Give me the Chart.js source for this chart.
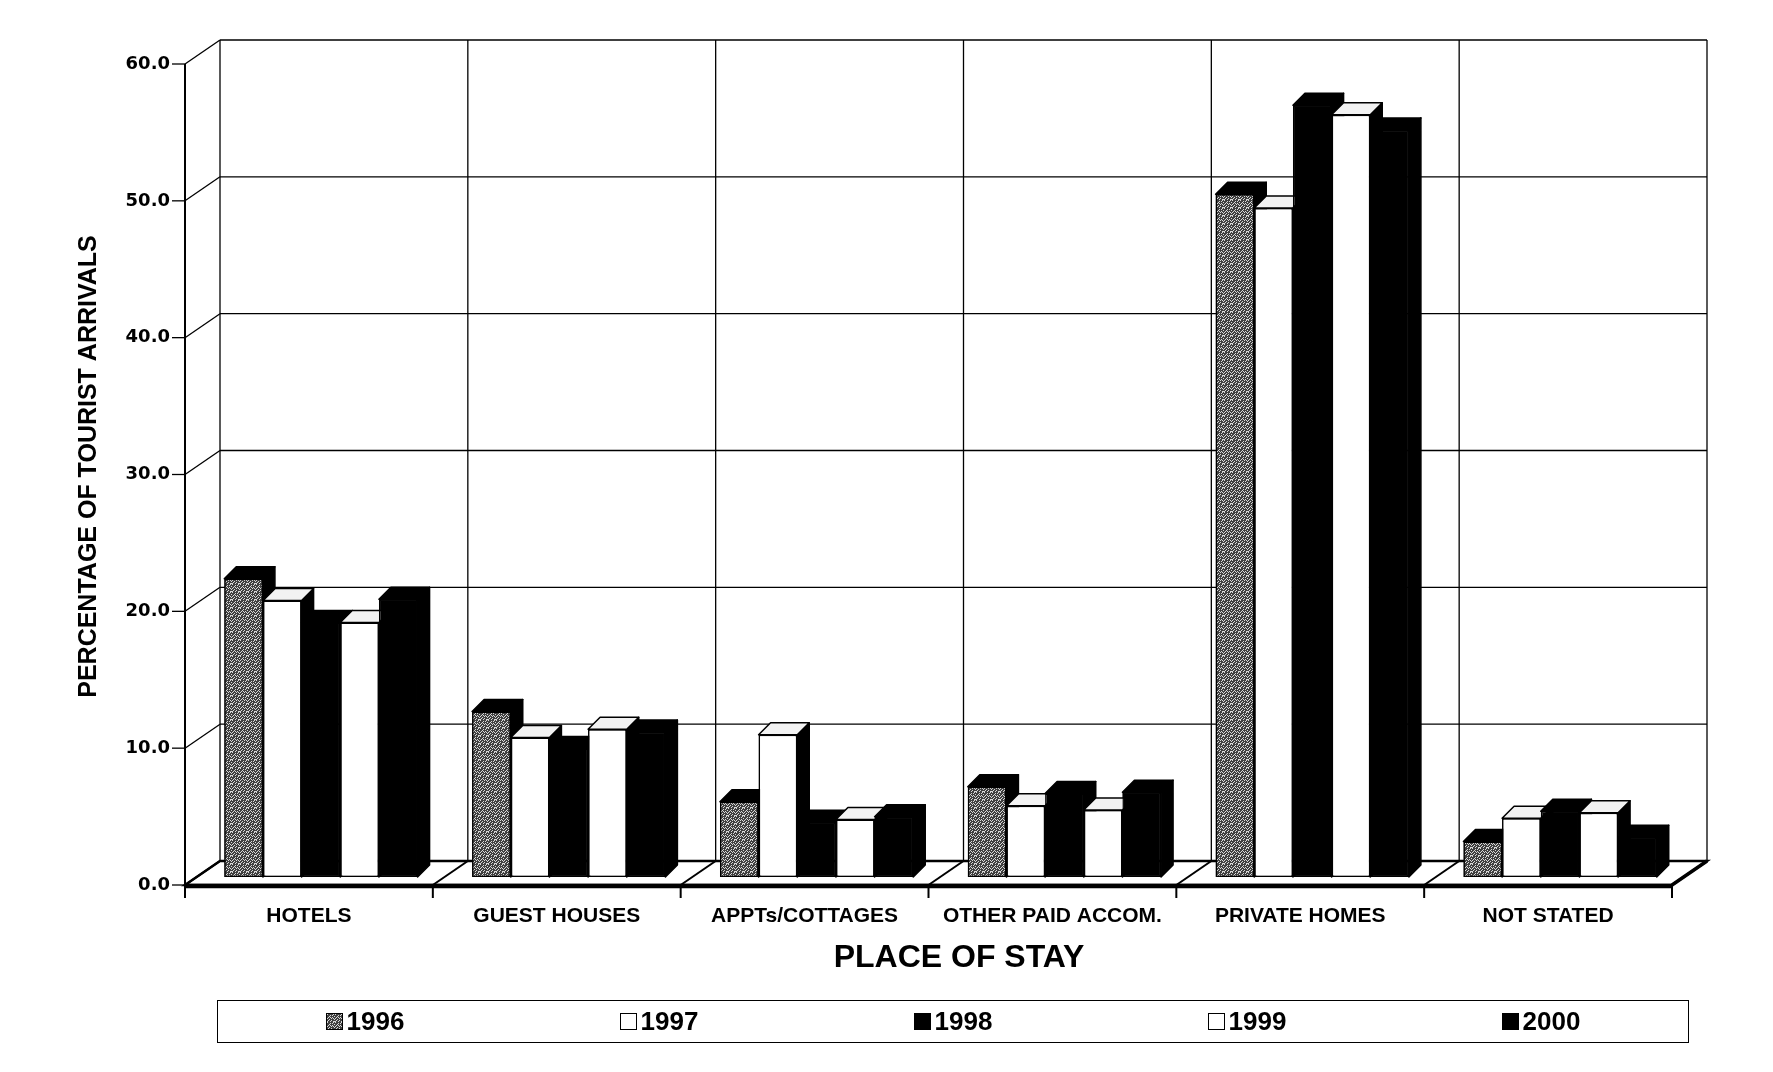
<!DOCTYPE html>
<html>
<head>
<meta charset="utf-8">
<script src="https://cdn.jsdelivr.net/npm/chart.js@4.4.1/dist/chart.umd.min.js"></script>
<style>
  body{margin:0;background:#fff;}
  #wrap{position:relative;width:1773px;height:1072px;overflow:hidden;}
  #xtitle{position:absolute;left:0;width:1918px;top:938px;line-height:40px;text-align:center;
    font:bold 32px "Liberation Sans",Arial,sans-serif;color:#000;}
  #legend{position:absolute;left:217px;top:1000px;width:1470px;height:41px;border:1.5px solid #000;
    display:flex;align-items:center;font:bold 26px "Liberation Sans",Arial,sans-serif;color:#000;}
  #legend .item{flex:1;display:flex;justify-content:center;align-items:center;}
  #legend .sw{width:17px;height:17px;border:1.5px solid #000;margin-right:4px;box-sizing:border-box;}
</style>
</head>
<body>
<div id="wrap">
  <canvas id="chart" width="1773" height="1072"></canvas>
  <div id="xtitle">PLACE OF STAY</div>
  <div id="legend"></div>
</div>
<script>
// categories and series (percent of arrivals)
const CATEGORIES = ['HOTELS','GUEST HOUSES','APPTs/COTTAGES','OTHER PAID ACCOM.','PRIVATE HOMES','NOT STATED'];
const YEARS = ['1996','1997','1998','1999','2000'];
const V1996 = [21.8, 12.1, 5.5, 6.6, 49.9, 2.6];
const V1997 = [20.2, 10.2, 10.4, 5.2, 48.9, 4.3];
const V1998 = [18.6, 9.4, 4.0, 6.1, 56.4, 4.8];
const V1999 = [18.6, 10.8, 4.2, 4.9, 55.7, 4.7];
const V2000 = [20.3, 10.6, 4.4, 6.2, 54.6, 2.9];
const Y_TICKS = [0, 10, 20, 30, 40, 50, 60];

// fake 3d: front axis plane and back wall relative to the bar plane
const FRONT = {dx: -12, dy: 8};
const BACK = {dx: 23, dy: -16};
const BAR_DEPTH = {dx: 12, dy: -12};

// grey speckle fill for 1996
function speckle(){
  const c = document.createElement('canvas');
  c.width = c.height = 8;
  const g = c.getContext('2d');
  g.fillStyle = '#404040';
  g.fillRect(0,0,8,8);
  g.fillStyle = '#d8d8d8';
  [[0,0],[3,1],[6,0],[1,3],[5,3],[2,5],[7,5],[4,6],[0,7],[6,7],[3,3],[7,2],[1,6],[5,1],[4,4],[2,2],
   [6,4],[0,4],[3,7],[7,7]]
    .forEach(([x,y]) => g.fillRect(x,y,1,1));
  return c;
}
const tile = speckle();
const greyFill = document.getElementById('chart').getContext('2d').createPattern(tile, 'repeat');

const FILLS = [greyFill, '#ffffff', '#000000', '#ffffff', '#000000'];
const TOP_FILLS = ['#000000', '#f2f2f2', '#000000', '#f2f2f2', '#000000'];
const SERIES = [V1996, V1997, V1998, V1999, V2000];

function line(ctx, x1, y1, x2, y2){
  ctx.beginPath(); ctx.moveTo(x1,y1); ctx.lineTo(x2,y2); ctx.stroke();
}
function poly(ctx, pts, fill){
  ctx.beginPath();
  pts.forEach((p,i) => i ? ctx.lineTo(p[0],p[1]) : ctx.moveTo(p[0],p[1]));
  ctx.closePath();
  ctx.fillStyle = fill; ctx.fill(); ctx.stroke();
}

const depth3d = {
  id: 'depth3d',
  beforeDatasetsDraw(chart){
    const {ctx, chartArea: a, scales: {x, y}} = chart;
    const n = chart.data.labels.length;
    const yv = v => y.getPixelForValue(v);
    const bx = k => x.getPixelForValue(k - 0.5);
    const top = Y_TICKS[Y_TICKS.length-1];
    ctx.save();
    ctx.strokeStyle = '#000';
    ctx.lineWidth = 1.3;
    // back wall grid
    Y_TICKS.forEach(v => line(ctx, a.left+BACK.dx, yv(v)+BACK.dy, a.right+BACK.dx, yv(v)+BACK.dy));
    for(let k=0;k<=n;k++) line(ctx, bx(k)+BACK.dx, yv(0)+BACK.dy, bx(k)+BACK.dx, yv(top)+BACK.dy);
    // side wall: diagonals from front ticks
    Y_TICKS.forEach(v => {
      line(ctx, a.left+FRONT.dx, yv(v)+FRONT.dy, a.left+BACK.dx, yv(v)+BACK.dy);
      line(ctx, a.left+FRONT.dx-13, yv(v)+FRONT.dy, a.left+FRONT.dx, yv(v)+FRONT.dy);
    });
    ctx.lineWidth = 2;
    line(ctx, a.left+FRONT.dx, yv(0)+FRONT.dy, a.left+FRONT.dx, yv(top)+FRONT.dy);
    // floor slab
    const f0 = yv(0);
    ctx.lineWidth = 2.5;
    poly(ctx, [[a.left+FRONT.dx, f0+FRONT.dy],[a.right+FRONT.dx, f0+FRONT.dy],
               [a.right+BACK.dx, f0+BACK.dy],[a.left+BACK.dx, f0+BACK.dy]], '#fff');
    ctx.lineWidth = 2;
    for(let k=0;k<=n;k++){
      line(ctx, bx(k)+FRONT.dx, f0+FRONT.dy, bx(k)+BACK.dx, f0+BACK.dy);
      line(ctx, bx(k)+FRONT.dx, f0+FRONT.dy, bx(k)+FRONT.dx, f0+FRONT.dy+13);
    }
    ctx.lineWidth = 4.5;
    line(ctx, a.left+FRONT.dx, f0+FRONT.dy+1, a.right+FRONT.dx, f0+FRONT.dy+1);
    ctx.lineWidth = 3.5;
    line(ctx, a.right+FRONT.dx, f0+FRONT.dy, a.right+BACK.dx, f0+BACK.dy);
    ctx.restore();
  },
  afterDatasetsDraw(chart){
    const {ctx} = chart;
    ctx.save();
    ctx.strokeStyle = '#000';
    ctx.lineWidth = 1.5;
    ctx.lineJoin = 'round';
    // paint left to right so each bar hides the side of the one before
    chart.data.datasets.forEach((ds, i) => {
      chart.getDatasetMeta(i).data.forEach(el => {
        el.draw(ctx);
        const {x, y, base, width} = el.getProps(['x','y','base','width'], true);
        const l = x - width/2, r = x + width/2;
        const dx = BAR_DEPTH.dx, dy = BAR_DEPTH.dy;
        poly(ctx, [[r,y],[r+dx,y+dy],[r+dx,base+dy],[r,base]], '#000');
        poly(ctx, [[l,y],[l+dx,y+dy],[r+dx,y+dy],[r,y]], TOP_FILLS[i]);
      });
    });
    ctx.restore();
  }
};

new Chart(document.getElementById('chart'), {
  type: 'bar',
  data: {
    labels: CATEGORIES,
    datasets: YEARS.map((yr, i) => ({
      label: yr,
      data: SERIES[i],
      backgroundColor: FILLS[i],
      borderColor: '#000',
      borderWidth: 1.5,
      borderSkipped: false,
      categoryPercentage: 0.78,
      barPercentage: 1.0
    }))
  },
  options: {
    responsive: false,
    animation: false,
    layout: {padding: {left: 70, top: 56, right: 89, bottom: 0}},
    plugins: {legend: {display: false}, tooltip: {enabled: false}},
    scales: {
      x: {
        grid: {display: false, drawTicks: false},
        border: {display: false},
        ticks: {
          color: '#000', padding: 27, labelOffset: FRONT.dx, maxRotation: 0, autoSkip: false,
          font: {family: '"Liberation Sans", Arial', size: 21, weight: 'bold'}
        },
        afterFit: s => { s.height = 195; }
      },
      y: {
        min: 0, max: 60,
        grid: {display: false, drawTicks: false},
        border: {display: false},
        ticks: {
          stepSize: 10, color: '#000', padding: 27, labelOffset: FRONT.dy,
          callback: v => Number(v).toFixed(1),
          font: {family: '"DejaVu Sans"', size: 18, weight: 'bold'}
        },
        title: {
          display: true, text: 'PERCENTAGE OF TOURIST ARRIVALS', color: '#000',
          padding: {top: 4, bottom: 4},
          font: {family: '"Liberation Sans", Arial', size: 25, weight: 'bold'}
        },
        afterFit: s => { s.width = 127; }
      }
    }
  },
  plugins: [depth3d]
});

// legend strip under the chart
const legend = document.getElementById('legend');
const tileUrl = tile.toDataURL();
YEARS.forEach((yr, i) => {
  const item = document.createElement('div');
  item.className = 'item';
  const sw = document.createElement('span');
  sw.className = 'sw';
  if(i === 0) sw.style.backgroundImage = 'url(' + tileUrl + ')';
  else sw.style.background = FILLS[i];
  const t = document.createElement('span');
  t.textContent = yr;
  item.appendChild(sw); item.appendChild(t);
  legend.appendChild(item);
});
</script>
</body>
</html>
